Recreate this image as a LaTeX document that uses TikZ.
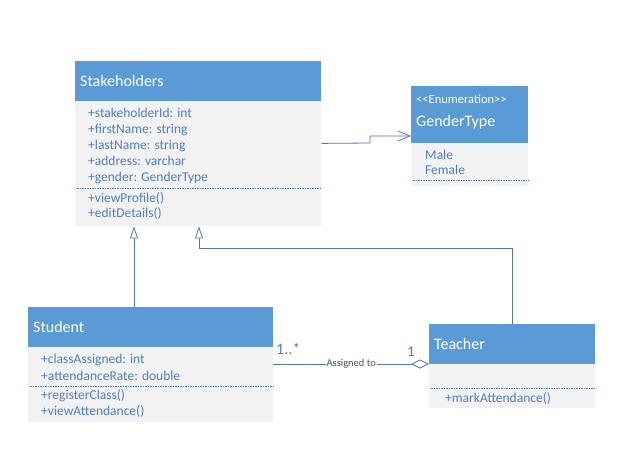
\documentclass[tikz,border=0pt]{standalone}
\usepackage{fontspec}
\setmainfont{Carlito}
\usetikzlibrary{arrows.meta}
\definecolor{hblue}{HTML}{5B9BD5}
\definecolor{bgray}{HTML}{F2F2F2}
\definecolor{tblue}{HTML}{4F7FBF}
\definecolor{lblue}{HTML}{4F7AAE}
\definecolor{dtext}{HTML}{44546A}
\tikzset{head/.style={anchor=north west,fill=hblue,text=white,font=\fontsize{16}{18}\selectfont,align=left,inner xsep=5pt,inner ysep=0pt}}
\tikzset{body/.style={anchor=north west,fill=bgray,inner sep=0pt}}
\tikzset{members/.style={anchor=west,text=tblue,font=\fontsize{13.5}{16}\selectfont,align=left,inner sep=0pt}}
\tikzset{sep/.style={lblue,dashed,dash pattern=on 1.5pt off 1pt,line width=0.5pt}}
\tikzset{inherit/.style={lblue,line width=0.8pt,-{Triangle[open,length=12pt,width=8pt,fill=white]}}}
\tikzset{assoc/.style={lblue,line width=0.8pt}}
\begin{document}
\begin{tikzpicture}[x=1pt,y=-1pt]
    \useasboundingbox[fill=white] (0,0) rectangle (620,469);
    % Stakeholders
    \node[head,minimum width=246pt,minimum height=40pt,text width=236pt] (shhead) at (75,61) {Stakeholders};
    \node[body,minimum width=246pt,minimum height=125pt] (shbody) at (75,101) {};
    \node[members] (shattr) at (88,146) {+stakeholderId: int\\+firstName: string\\+lastName: string\\+address: varchar\\+gender: GenderType};
    \node[members,font=\fontsize{13.5}{15.5}\selectfont] (shops) at (88,206) {+viewProfile()\\+editDetails()};
    \draw[sep] (shbody.west |- 0,188) ++(2,0) -- (shbody.east |- 0,188);
    % GenderType
    \node[head,minimum width=117pt,minimum height=57pt,text width=107pt] (gthead) at (411,86) {};
    \node[anchor=west,text=white,font=\fontsize{12.5}{14}\selectfont,inner sep=0pt] (gtster) at (416,99) {{<}{<}Enumeration{>}{>}};
    \node[anchor=west,text=white,font=\fontsize{16}{18}\selectfont,inner sep=0pt] (gtname) at (416,122) {GenderType};
    \node[body,minimum width=117pt,minimum height=43pt] (gtbody) at (411,143) {};
    \node[members,font=\fontsize{13.5}{15}\selectfont] (gtvals) at (425,162.5) {Male\\Female};
    \draw[sep] (gtbody.west |- 0,180) ++(2,0) -- (gtbody.east |- 0,180);
    % Student
    \node[head,minimum width=245pt,minimum height=40pt,text width=235pt] (sthead) at (28,307) {Student};
    \node[body,minimum width=245pt,minimum height=75pt] (stbody) at (28,347) {};
    \node[members,font=\fontsize{13.5}{17}\selectfont] (stattr) at (41,367.5) {+classAssigned: int\\+attendanceRate: double};
    \node[members] (stops) at (41,403) {+registerClass()\\+viewAttendance()};
    \draw[sep] (stbody.west |- 0,386) ++(2,0) -- (stbody.east |- 0,386);
    % Teacher
    \node[head,minimum width=166pt,minimum height=40pt,text width=156pt] (tchead) at (429,324) {Teacher};
    \node[body,minimum width=166pt,minimum height=44pt] (tcbody) at (429,364) {};
    \node[members] (tcops) at (445,398) {+markAttendance()};
    \draw[sep] (tcbody.west |- 0,388) ++(2,0) -- (tcbody.east |- 0,388);
    % connectors
    \draw[inherit] (sthead.north -| 134,0) -- (shbody.south -| 134,0);
    \draw[inherit] (tchead.north -| 512,0) |- (199,248) -- (shbody.south -| 199,0);
    \coordinate (gtin) at (411,136);
    \draw[assoc,-{Straight Barb[length=12pt,width=10pt]}] (shbody.east |- gthead.south) -- (370,143) |- (gtin);
    \draw[assoc,-{Diamond[open,length=18pt,width=9pt,fill=white]}] (stbody.east |- tcbody.north) -- node[fill=white,text=dtext,font=\fontsize{10.5}{12}\selectfont,inner sep=1pt] (asg) {Assigned to} (tcbody.north west);
    \node[text=tblue,font=\fontsize{16}{18}\selectfont,anchor=west,inner sep=0pt] (mstart) at (276,349) {1..*};
    \node[text=tblue,font=\fontsize{15}{17}\selectfont,inner sep=0pt] (mend) at (411,352) {1};
\end{tikzpicture}
\end{document}
